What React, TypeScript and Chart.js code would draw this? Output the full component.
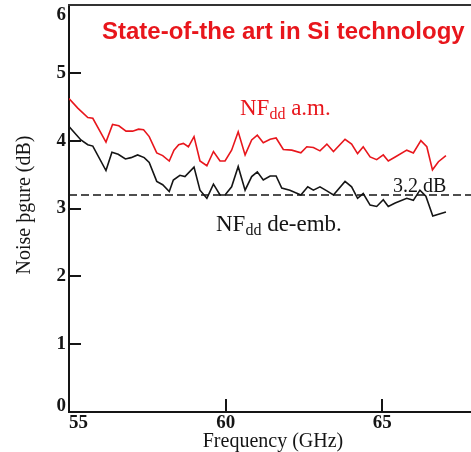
import React, { useEffect, useRef } from "react";
import { Chart, registerables } from "chart.js";

Chart.register(...registerables);

// ---- data ----
const redFreq = [55.0, 55.28, 55.6, 55.76, 56.18, 56.39, 56.59, 56.82, 57.03, 57.22, 57.38, 57.56, 57.8, 57.99, 58.2, 58.35, 58.5, 58.65, 58.81, 58.99, 59.18, 59.4, 59.61, 59.82, 59.98, 60.19, 60.4, 60.62, 60.83, 61.01, 61.2, 61.42, 61.61, 61.84, 62.11, 62.4, 62.59, 62.8, 63.01, 63.23, 63.44, 63.81, 64.02, 64.21, 64.39, 64.61, 64.82, 65.03, 65.19, 65.41, 65.78, 65.99, 66.23, 66.42, 66.6, 66.79, 67.03];
const redNF = [4.62, 4.48, 4.34, 4.33, 3.98, 4.24, 4.22, 4.14, 4.14, 4.17, 4.16, 4.06, 3.82, 3.78, 3.7, 3.86, 3.94, 3.96, 3.91, 4.06, 3.7, 3.63, 3.84, 3.7, 3.7, 3.86, 4.13, 3.79, 4.01, 4.08, 3.97, 4.02, 4.04, 3.87, 3.86, 3.82, 3.91, 3.9, 3.85, 3.95, 3.84, 4.02, 3.95, 3.81, 3.91, 3.76, 3.72, 3.79, 3.7, 3.76, 3.86, 3.82, 4.0, 3.91, 3.57, 3.69, 3.78];
const blackFreq = [55.0, 55.38, 55.6, 55.76, 56.18, 56.37, 56.57, 56.8, 56.98, 57.19, 57.4, 57.56, 57.8, 57.99, 58.2, 58.33, 58.54, 58.7, 58.99, 59.18, 59.4, 59.61, 59.82, 59.98, 60.19, 60.4, 60.62, 60.83, 61.01, 61.2, 61.42, 61.61, 61.79, 62.05, 62.4, 62.62, 62.8, 63.01, 63.23, 63.44, 63.81, 64.02, 64.21, 64.39, 64.61, 64.82, 65.03, 65.19, 65.41, 65.78, 65.99, 66.2, 66.39, 66.61, 67.03];
const blackNF = [4.21, 4.01, 3.94, 3.92, 3.56, 3.83, 3.8, 3.73, 3.75, 3.79, 3.75, 3.68, 3.4, 3.35, 3.25, 3.42, 3.49, 3.47, 3.61, 3.27, 3.15, 3.36, 3.2, 3.2, 3.32, 3.62, 3.27, 3.47, 3.54, 3.42, 3.48, 3.48, 3.3, 3.27, 3.2, 3.32, 3.27, 3.32, 3.26, 3.2, 3.4, 3.32, 3.15, 3.22, 3.05, 3.03, 3.13, 3.03, 3.08, 3.15, 3.12, 3.27, 3.18, 2.89, 2.95];
const refLevel = 3.2;
const xMin = 55;
const xMax = 67.83;
const yMin = 0;
const yMax = 6;
const xTickValues = [55, 60, 65];
const yTickValues = [0, 1, 2, 3, 4, 5, 6];
const titleText = "State-of-the art in Si technology";
const xTitle = "Frequency (GHz)";
const yTitle = "Noise þgure (dB)";
const refLabel = "3.2 dB";
const redLabel = ["NF", "dd", " a.m."];
const blackLabel = ["NF", "dd", " de-emb."];

const SERIF = '"Liberation Serif", "Times New Roman", serif';
const SANS = '"Liberation Sans", Arial, sans-serif';
const RED = "#e8161c";
const BLACK = "#151515";

function drawSubLabel(ctx: CanvasRenderingContext2D, parts: string[], x: number, y: number, color: string) {
  ctx.fillStyle = color;
  ctx.textAlign = "left";
  ctx.textBaseline = "alphabetic";
  ctx.font = `23px ${SERIF}`;
  ctx.fillText(parts[0], x, y);
  let cx = x + ctx.measureText(parts[0]).width;
  ctx.font = `16px ${SERIF}`;
  ctx.fillText(parts[1], cx, y + 4);
  cx += ctx.measureText(parts[1]).width;
  ctx.font = `23px ${SERIF}`;
  ctx.fillText(parts[2], cx, y);
}

const overlay = {
  id: "overlay",
  afterDraw(chart: any) {
    const { ctx, chartArea } = chart;
    const xs = chart.scales.x;
    const ys = chart.scales.y;
    const { left, right, top, bottom } = chartArea;
    ctx.save();
    // top frame
    ctx.strokeStyle = "#333";
    ctx.lineWidth = 2;
    ctx.beginPath();
    ctx.moveTo(left - 1, top);
    ctx.lineTo(right, top);
    ctx.stroke();
    // inward tick marks
    ctx.strokeStyle = BLACK;
    ctx.lineWidth = 2;
    ctx.beginPath();
    for (const v of yTickValues) {
      if (v <= yMin || v >= yMax) continue;
      const py = Math.round(ys.getPixelForValue(v));
      ctx.moveTo(left, py);
      ctx.lineTo(left + 12, py);
    }
    for (const v of xTickValues) {
      if (v <= xMin) continue;
      const px = Math.round(xs.getPixelForValue(v));
      ctx.moveTo(px, bottom);
      ctx.lineTo(px, bottom - 13);
    }
    ctx.stroke();
    // y tick labels
    ctx.fillStyle = BLACK;
    ctx.font = `bold 19px ${SERIF}`;
    ctx.textAlign = "right";
    ctx.textBaseline = "middle";
    for (const v of yTickValues) {
      let py = ys.getPixelForValue(v);
      py = Math.max(top + 10, Math.min(bottom - 6, py));
      ctx.fillText(String(v), left - 3, py);
    }
    // x tick labels
    ctx.font = `bold 19px ${SERIF}`;
    ctx.textBaseline = "middle";
    for (const v of xTickValues) {
      const px = xs.getPixelForValue(v);
      if (v <= xMin) {
        ctx.textAlign = "left";
        ctx.fillText(String(v), px, bottom + 11);
      } else {
        ctx.textAlign = "center";
        ctx.fillText(String(v), px, bottom + 11);
      }
    }
    // axis titles
    ctx.font = `20px ${SERIF}`;
    ctx.textAlign = "center";
    ctx.textBaseline = "alphabetic";
    ctx.fillText(xTitle, 273, 447);
    ctx.save();
    ctx.translate(25, 205);
    ctx.rotate(-Math.PI / 2);
    ctx.textBaseline = "middle";
    ctx.fillText(yTitle, 0, 0);
    ctx.restore();
    // title
    ctx.fillStyle = RED;
    ctx.font = `bold 24px ${SANS}`;
    ctx.textAlign = "left";
    ctx.textBaseline = "alphabetic";
    ctx.fillText(titleText, 102, 39);
    // curve labels
    drawSubLabel(ctx, redLabel, 240, 115, RED);
    drawSubLabel(ctx, blackLabel, 216, 231, BLACK);
    ctx.fillStyle = BLACK;
    ctx.font = `20px ${SERIF}`;
    ctx.textAlign = "left";
    ctx.fillText(refLabel, 393, 192);
    ctx.restore();
  },
};

export default function App() {
  const ref = useRef<HTMLCanvasElement>(null);
  useEffect(() => {
    if (!ref.current) return;
    const chart = new Chart(ref.current, {
      type: "scatter",
      data: {
        datasets: [
          {
            data: [{ x: xMin, y: refLevel }, { x: xMax, y: refLevel }],
            showLine: true,
            borderColor: BLACK,
            borderWidth: 1.5,
            borderDash: [8, 4],
            pointRadius: 0,
          },
          {
            data: blackFreq.map((f, i) => ({ x: f, y: blackNF[i] })),
            showLine: true,
            borderColor: BLACK,
            borderWidth: 1.6,
            pointRadius: 0,
            tension: 0,
          },
          {
            data: redFreq.map((f, i) => ({ x: f, y: redNF[i] })),
            showLine: true,
            borderColor: RED,
            borderWidth: 1.6,
            pointRadius: 0,
            tension: 0,
          },
        ],
      },
      options: {
        responsive: false,
        animation: false,
        devicePixelRatio: 1,
        layout: { padding: { left: 69, right: 0, top: 5, bottom: 40 } },
        plugins: { legend: { display: false }, tooltip: { enabled: false } },
        scales: {
          x: {
            type: "linear",
            min: xMin,
            max: xMax,
            grid: { display: false, drawTicks: false, tickLength: 0 },
            ticks: { display: false, padding: 0 },
            border: { display: true, color: BLACK, width: 2 },
          },
          y: {
            type: "linear",
            min: yMin,
            max: yMax,
            grid: { display: false, drawTicks: false, tickLength: 0 },
            ticks: { display: false, padding: 0 },
            border: { display: true, color: BLACK, width: 2 },
          },
        },
      },
      plugins: [overlay],
    });
    return () => chart.destroy();
  }, []);
  return (
    <div style={{ position: "absolute", left: 0, top: 0, width: 471, height: 452, background: "#fff" }}>
      <canvas ref={ref} width={471} height={452} style={{ display: "block" }} />
    </div>
  );
}
